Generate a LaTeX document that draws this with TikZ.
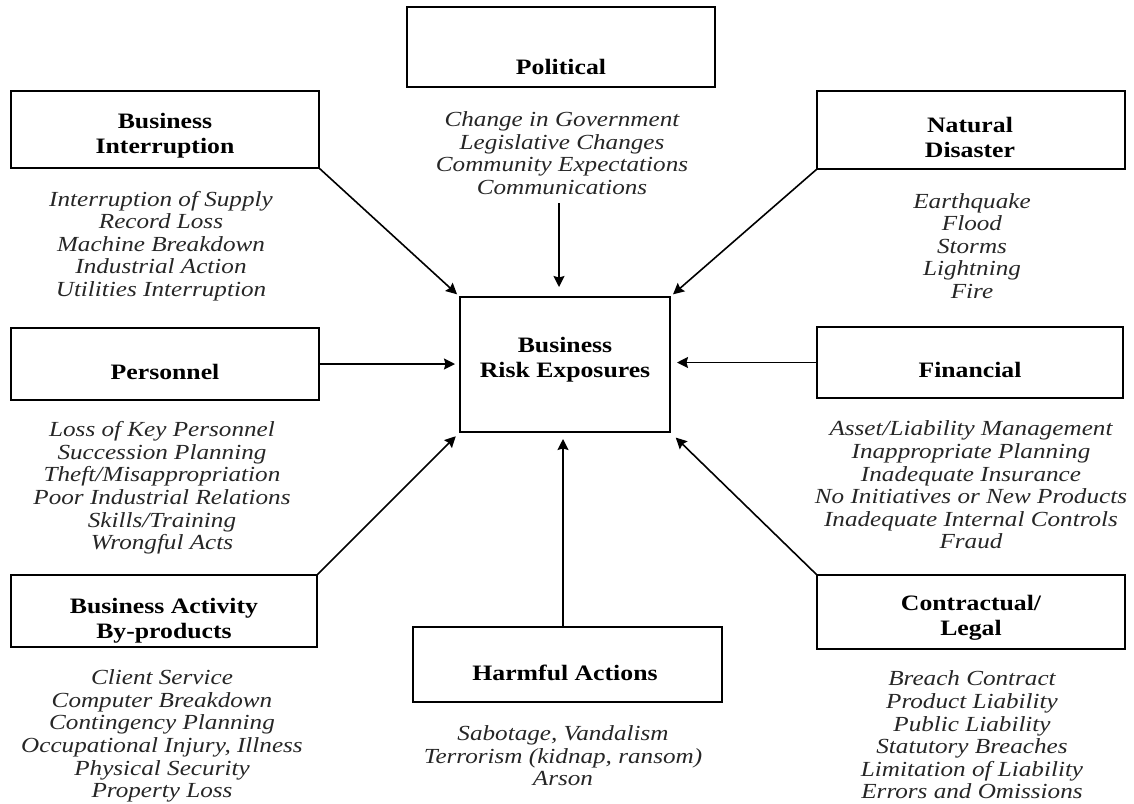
\documentclass[tikz,border=0pt]{standalone}
\usepackage{fontspec}
\setmainfont{Liberation Serif}[FakeStretch=1.17]
\usetikzlibrary{arrows.meta,calc}
\tikzset{
  box/.style={draw, line width=1.6pt, rectangle, inner sep=0pt, outer sep=0pt},
  ttl/.style={font=\fontsize{22}{25}\selectfont\bfseries, align=center, inner sep=0pt},
  lst/.style={font=\fontsize{21.5}{22.6}\selectfont\itshape, align=center, inner sep=0pt, text=black!85},
  arr/.style={line width=1.6pt, -{Stealth[length=11pt,width=11pt,inset=1.5pt]}}
}
\begin{document}
\begin{tikzpicture}[x=1pt,y={(0pt,-1pt)}]
\useasboundingbox (0,0) rectangle (1134,803);
% boxes
\node[box, minimum width=308, minimum height=80] (pol) at (561,47) {};
\node[box, minimum width=308, minimum height=77] (bi) at (165,129.5) {};
\node[box, minimum width=308, minimum height=78] (nd) at (971,130) {};
\node[box, minimum width=308, minimum height=72] (per) at (165,364) {};
\node[box, minimum width=306, minimum height=71] (fin) at (970,362.5) {};
\node[box, minimum width=306, minimum height=72] (ba) at (164,611) {};
\node[box, minimum width=309, minimum height=75] (harm) at (567.5,664.5) {};
\node[box, minimum width=308, minimum height=74] (con) at (971,612) {};
\node[box, minimum width=210, minimum height=135] (c) at (565,364.5) {};
% titles
\node[ttl] (tpol) at (561,67) {Political};
\node[ttl] (tbi) at (165,136) {Business\\Interruption};
\node[ttl] (tnd) at (970,137) {Natural\\Disaster};
\node[ttl] (tper) at (165,372) {Personnel};
\node[ttl] (tfin) at (970,370) {Financial};
\node[ttl] (tba) at (164,621) {Business Activity\\By-products};
\node[ttl] (tharm) at (565,673) {Harmful Actions};
\node[ttl] (tcon) at (971,618) {Contractual/\\Legal};
\node[ttl] (tc) at (565,360) {Business\\Risk Exposures};
% lists
\node[lst] (lpol) at (562,153) {Change in Government\\Legislative Changes\\Community Expectations\\Communications};
\node[lst] (lbi) at (161,246) {Interruption of Supply\\Record Loss\\Machine Breakdown\\Industrial Action\\Utilities Interruption};
\node[lst] (lnd) at (972,246) {Earthquake\\Flood\\Storms\\Lightning\\Fire};
\node[lst] (lper) at (162,488) {Loss of Key Personnel\\Succession Planning\\Theft/Misappropriation\\Poor Industrial Relations\\Skills/Training\\Wrongful Acts};
\node[lst] (lfin) at (971,485) {Asset/Liability Management\\Inappropriate Planning\\Inadequate Insurance\\No Initiatives or New Products\\Inadequate Internal Controls\\Fraud};
\node[lst] (lba) at (162,736) {Client Service\\Computer Breakdown\\Contingency Planning\\Occupational Injury, Illness\\Physical Security\\Property Loss};
\node[lst] (lharm) at (563,756) {Sabotage, Vandalism\\Terrorism (kidnap, ransom)\\Arson};
\node[lst] (lcon) at (972,735) {Breach Contract\\Product Liability\\Public Liability\\Statutory Breaches\\Limitation of Liability\\Errors and Omissions};
% arrows
\coordinate (pa) at (559,203);
\draw[arr, shorten >=10pt] (pa) -- (pa |- c.north);
\draw[arr, shorten >=4pt] (bi.south east) -- (c.north west);
\draw[arr, shorten >=4pt] (nd.south west) -- (c.north east);
\draw[arr, shorten >=5pt] (per.east) -- (per.east -| c.west);
\draw[arr, shorten >=7pt] (fin.west) -- (fin.west -| c.east);
\draw[arr, shorten >=6pt] (ba.north east) -- (c.south west);
\draw[arr, shorten >=8pt] (con.north west) -- (c.south east);
\coordinate (ha) at (563,627);
\draw[arr, shorten >=7pt] (ha) -- (ha |- c.south);
\end{tikzpicture}
\end{document}
